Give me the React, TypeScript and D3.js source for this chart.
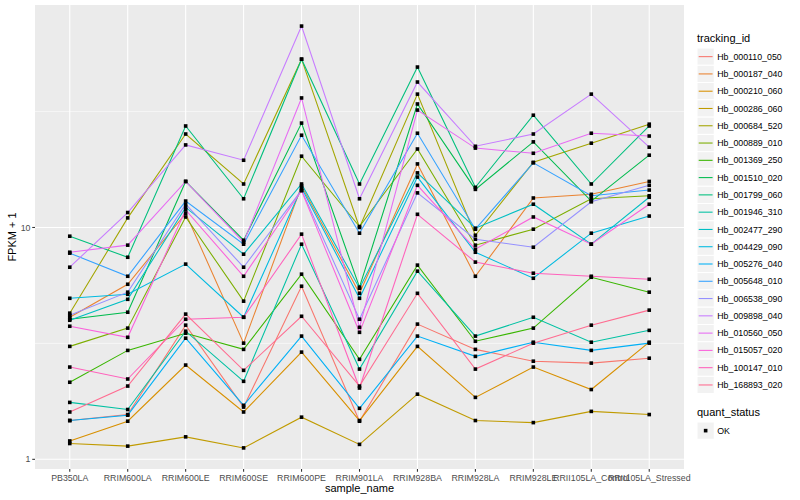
import * as d3 from "d3";

const samples = [
  "PB350LA",
  "RRIM600LA",
  "RRIM600LE",
  "RRIM600SE",
  "RRIM600PE",
  "RRIM901LA",
  "RRIM928BA",
  "RRIM928LA",
  "RRIM928LE",
  "RRII105LA_Control",
  "RRII105LA_Stressed",
];

const trackingIds = [
  "Hb_000110_050",
  "Hb_000187_040",
  "Hb_000210_060",
  "Hb_000286_060",
  "Hb_000684_520",
  "Hb_000889_010",
  "Hb_001369_250",
  "Hb_001510_020",
  "Hb_001799_060",
  "Hb_001946_310",
  "Hb_002477_290",
  "Hb_004429_090",
  "Hb_005276_040",
  "Hb_005648_010",
  "Hb_006538_090",
  "Hb_009898_040",
  "Hb_010560_050",
  "Hb_015057_020",
  "Hb_100147_010",
  "Hb_168893_020",
];

// ggplot hue palette for 20 groups
const hueColors = [
  "#F8766D", "#EA8331", "#D89000", "#C09B00", "#A3A500",
  "#7CAE00", "#39B600", "#00BB4E", "#00BF7D", "#00C1A3",
  "#00BFC4", "#00BAE0", "#00B0F6", "#35A2FF", "#9590FF",
  "#C77CFF", "#E76BF3", "#FA62DB", "#FF62BC", "#FF6C91",
];

// FPKM + 1 per sample, one array per gene
const hb000110 = [1.47, 1.56, 3.79, 1.68, 5.58, 1.46, 3.83, 2.98, 2.65, 2.6, 2.73];
const hb000187 = [4.1, 5.69, 11.5, 3.17, 15.1, 5.2, 18.8, 6.16, 13.4, 13.9, 15.8];
const hb000210 = [1.2, 1.46, 2.55, 1.6, 2.9, 1.47, 3.07, 1.85, 2.5, 2.0, 3.2];
const hb000286 = [1.17, 1.14, 1.25, 1.12, 1.52, 1.16, 1.91, 1.47, 1.44, 1.61, 1.56];
const hb000684 = [4.27, 11.0, 25.3, 15.4, 53.2, 10.0, 37.6, 9.26, 19.1, 23.1, 27.9];
const hb000889 = [3.07, 3.68, 11.1, 4.81, 20.3, 10.1, 21.8, 8.39, 9.83, 13.3, 13.7];
const hb001369 = [2.15, 2.95, 3.5, 2.98, 6.29, 2.7, 6.88, 3.23, 3.68, 6.1, 5.26];
const hb001510 = [4.02, 4.31, 15.8, 8.81, 28.2, 5.53, 34.1, 14.6, 23.4, 13.0, 20.5];
const hb001799 = [9.17, 7.44, 27.4, 13.3, 53.2, 15.4, 49.2, 14.9, 30.5, 15.4, 27.4];
const hb001946 = [1.76, 1.64, 3.57, 2.17, 8.47, 2.45, 6.48, 3.4, 4.1, 3.2, 3.6];
const hb002477 = [3.98, 4.9, 12.2, 7.67, 15.4, 5.47, 17.2, 9.93, 12.6, 8.47, 13.5];
const hb004429 = [4.95, 5.15, 6.95, 4.1, 14.8, 4.95, 16.5, 7.82, 6.04, 9.45, 11.2];
const hb005276 = [1.47, 1.55, 3.33, 1.71, 3.4, 1.66, 3.4, 2.78, 3.2, 2.95, 3.17];
const hb005648 = [7.75, 6.16, 13.0, 8.47, 25.0, 9.45, 25.5, 9.83, 19.0, 13.7, 14.5];
const hb006538 = [4.18, 5.26, 12.6, 6.74, 14.5, 4.02, 14.1, 8.9, 8.22, 12.9, 15.2];
const hb009898 = [6.74, 11.6, 22.7, 19.5, 73.9, 13.3, 42.4, 22.4, 25.3, 37.6, 22.2];
const hb010560 = [7.82, 8.39, 15.8, 8.64, 36.2, 3.71, 32.1, 22.0, 20.9, 25.5, 24.8];
const hb015057 = [3.75, 3.36, 11.9, 6.16, 14.4, 3.53, 15.2, 8.06, 11.1, 8.47, 12.6];
const hb100147 = [2.5, 2.22, 4.02, 4.1, 9.36, 2.03, 11.4, 7.09, 6.35, 6.16, 5.98];
const hb168893 = [1.6, 2.07, 4.23, 2.42, 4.14, 2.07, 5.2, 2.45, 3.17, 3.79, 4.4];

const seriesValues = [
  hb000110, hb000187, hb000210, hb000286, hb000684,
  hb000889, hb001369, hb001510, hb001799, hb001946,
  hb002477, hb004429, hb005276, hb005648, hb006538,
  hb009898, hb010560, hb015057, hb100147, hb168893,
];

const yMajor = [1, 10, 100];
const yMinor = [Math.sqrt(10), Math.sqrt(1000)];

const W = 800;
const H = 500;
const margin = { left: 35, right: 684, top: 5, bottom: 469 };
const font = "'Liberation Sans', Arial, Helvetica, sans-serif";

export default function App() {
  const x = d3
    .scalePoint<string>()
    .domain(samples)
    .range([margin.left, margin.right])
    .padding(0.6);

  // log scale with ggplot-style 5% expansion
  const all = seriesValues.flat();
  const lmin = Math.log10(d3.min(all) as number);
  const lmax = Math.log10(d3.max(all) as number);
  const pad = (lmax - lmin) * 0.05;
  const y = d3
    .scaleLog()
    .domain([10 ** (lmin - pad), 10 ** (lmax + pad)])
    .range([margin.bottom, margin.top]);

  const [d0, d1] = y.domain();
  const inDomain = (v: number) => v >= d0 && v <= d1;

  const line = d3
    .line<number>()
    .x((_d, i) => x(samples[i]) as number)
    .y((d) => y(d));

  const legendX = 697;
  const keySize = 17.28;
  const key0 = 48;

  return (
    <div style={{ position: "fixed", left: 0, top: 0 }}>
      <svg width={W} height={H} style={{ display: "block", background: "#fff" }} fontFamily={font}>
        <rect
          x={margin.left}
          y={margin.top}
          width={margin.right - margin.left}
          height={margin.bottom - margin.top}
          fill="#EBEBEB"
        />
        {yMinor.filter(inDomain).map((v) => (
          <line key={"mn" + v} x1={margin.left} x2={margin.right} y1={y(v)} y2={y(v)} stroke="#fff" strokeWidth={0.55} />
        ))}
        {yMajor.filter(inDomain).map((v) => (
          <line key={"mj" + v} x1={margin.left} x2={margin.right} y1={y(v)} y2={y(v)} stroke="#fff" strokeWidth={1.07} />
        ))}
        {samples.map((s) => (
          <line key={"gx" + s} x1={x(s)} x2={x(s)} y1={margin.top} y2={margin.bottom} stroke="#fff" strokeWidth={1.07} />
        ))}

        {seriesValues.map((vals, i) => (
          <path key={"l" + i} d={line(vals) as string} fill="none" stroke={hueColors[i]} strokeWidth={1.07} />
        ))}
        {seriesValues.map((vals, i) =>
          vals.map((v, j) => (
            <rect
              key={"p" + i + "-" + j}
              x={(x(samples[j]) as number) - 1.8}
              y={y(v) - 1.8}
              width={3.6}
              height={3.6}
              fill="#000"
            />
          ))
        )}

        {/* y axis */}
        {yMajor.filter(inDomain).map((v) => (
          <g key={"ty" + v}>
            <line x1={margin.left - 2.75} x2={margin.left} y1={y(v)} y2={y(v)} stroke="#333" strokeWidth={1.07} />
            <text x={margin.left - 4.5} y={y(v)} dy="0.35em" textAnchor="end" fontSize={8.8} fill="#4D4D4D">
              {v}
            </text>
          </g>
        ))}
        {/* x axis */}
        {samples.map((s) => (
          <g key={"tx" + s}>
            <line x1={x(s)} x2={x(s)} y1={margin.bottom} y2={margin.bottom + 2.75} stroke="#333" strokeWidth={1.07} />
            <text x={x(s)} y={margin.bottom + 11.5} textAnchor="middle" fontSize={8.8} fill="#4D4D4D">
              {s}
            </text>
          </g>
        ))}
        <text
          x={(margin.left + margin.right) / 2}
          y={492}
          textAnchor="middle"
          fontSize={11}
          fill="#000"
        >
          sample_name
        </text>
        <text
          transform={`translate(16,${(margin.top + margin.bottom) / 2}) rotate(-90)`}
          textAnchor="middle"
          fontSize={11}
          fill="#000"
        >
          FPKM + 1
        </text>

        {/* legend: tracking_id */}
        <text x={legendX} y={42} fontSize={11} fill="#000">
          tracking_id
        </text>
        {trackingIds.map((id, i) => {
          const ky = key0 + i * keySize;
          return (
            <g key={"lg" + id}>
              <rect x={legendX} y={ky} width={keySize} height={keySize} fill="#F2F2F2" stroke="#fff" strokeWidth={1} />
              <line
                x1={legendX + 1.7}
                x2={legendX + keySize - 1.7}
                y1={ky + keySize / 2}
                y2={ky + keySize / 2}
                stroke={hueColors[i]}
                strokeWidth={1.07}
              />
              <text x={legendX + keySize + 3} y={ky + keySize / 2} dy="0.35em" fontSize={8.8} fill="#000">
                {id}
              </text>
            </g>
          );
        })}

        {/* legend: quant_status */}
        <text x={legendX} y={416} fontSize={11} fill="#000">
          quant_status
        </text>
        <rect x={legendX} y={422} width={keySize} height={keySize} fill="#F2F2F2" stroke="#fff" strokeWidth={1} />
        <rect x={legendX + keySize / 2 - 1.8} y={422 + keySize / 2 - 1.8} width={3.6} height={3.6} fill="#000" />
        <text x={legendX + keySize + 3} y={422 + keySize / 2} dy="0.35em" fontSize={8.8} fill="#000">
          OK
        </text>
      </svg>
    </div>
  );
}
